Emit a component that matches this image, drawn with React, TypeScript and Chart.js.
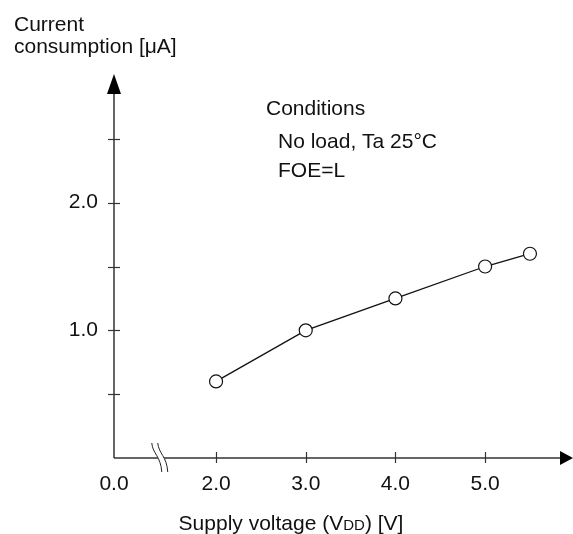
import React, { useEffect, useRef } from "react";
import { Chart, registerables } from "chart.js";

Chart.register(...registerables);

// ---- data ----
const supplyVoltage = [2.0, 3.0, 4.0, 5.0, 5.5];
const currentConsumption = [0.6, 1.0, 1.25, 1.5, 1.6];

const xTickValues = [2, 3, 4, 5];
const xOriginLabel = "0.0";
const yTickLabelValues = [1, 2];

const xAxisStart = 0.862; // broken axis: the y-axis sits here (labelled 0.0)
const xAxisEnd = 5.98;
const yAxisMin = 0;
const yAxisMax = 3.0;
const yStep = 0.5;

const yTitleLines = ["Current", "consumption [\u03bcA]"];
const conditionsLines = ["Conditions", "No load, Ta 25\u00b0C", "FOE=L"];

const FONT = "'Liberation Sans', Arial, Helvetica, sans-serif";
const INK = "#111";
const AXIS = "#333";

const decorations = {
  id: "decorations",
  beforeDatasetsDraw(chart: any) {
    const { ctx, chartArea } = chart;
    const xs = chart.scales.x;
    const ys = chart.scales.y;
    const left = chartArea.left;
    const bottom = chartArea.bottom;
    const top = chartArea.top;
    const right = chartArea.right;
    ctx.save();
    ctx.strokeStyle = AXIS;
    ctx.fillStyle = "#000";
    ctx.lineWidth = 1.5;
    // y axis line
    ctx.beginPath();
    ctx.moveTo(left, bottom);
    ctx.lineTo(left, top + 12);
    ctx.stroke();
    // y arrow
    ctx.beginPath();
    ctx.moveTo(left, top - 1);
    ctx.lineTo(left - 7, top + 19);
    ctx.lineTo(left + 7, top + 19);
    ctx.closePath();
    ctx.fill();
    // x axis line
    ctx.beginPath();
    ctx.moveTo(left, bottom);
    ctx.lineTo(right - 8, bottom);
    ctx.stroke();
    // x arrow
    ctx.beginPath();
    ctx.moveTo(right, bottom);
    ctx.lineTo(right - 13, bottom - 7);
    ctx.lineTo(right - 13, bottom + 7);
    ctx.closePath();
    ctx.fill();
    // y tick marks (crossing)
    ctx.lineWidth = 1.2;
    for (let v = yStep; v < yAxisMax - 1e-6; v += yStep) {
      const py = Math.round(ys.getPixelForValue(v)) + 0.5;
      ctx.beginPath();
      ctx.moveTo(left - 6, py);
      ctx.lineTo(left + 6, py);
      ctx.stroke();
    }
    // x tick marks (crossing)
    xTickValues.forEach((v) => {
      const px = Math.round(xs.getPixelForValue(v)) + 0.5;
      ctx.beginPath();
      ctx.moveTo(px, bottom - 6);
      ctx.lineTo(px, bottom + 5);
      ctx.stroke();
    });
    // axis break marks
    const bx = left + (xs.getPixelForValue(2) - left) * 0.37;
    const curve = (x0: number) => {
      ctx.moveTo(x0, bottom - 15);
      ctx.bezierCurveTo(x0 + 1, bottom - 4, x0 + 9, bottom - 2, x0 + 10, bottom + 14);
    };
    ctx.fillStyle = "#fff";
    ctx.beginPath();
    ctx.moveTo(bx, bottom - 15);
    ctx.bezierCurveTo(bx + 1, bottom - 4, bx + 9, bottom - 2, bx + 10, bottom + 14);
    ctx.lineTo(bx + 16, bottom + 14);
    ctx.bezierCurveTo(bx + 15, bottom - 2, bx + 7, bottom - 4, bx + 6, bottom - 15);
    ctx.closePath();
    ctx.fill();
    ctx.strokeStyle = "#222";
    ctx.lineWidth = 1;
    ctx.beginPath();
    curve(bx);
    curve(bx + 6);
    ctx.stroke();
    ctx.restore();
  },
  afterDraw(chart: any) {
    const { ctx } = chart;
    ctx.save();
    ctx.fillStyle = INK;
    ctx.textBaseline = "alphabetic";
    ctx.textAlign = "left";
    ctx.font = `21px ${FONT}`;
    // y-axis title
    ctx.fillText(yTitleLines[0], 14, 31);
    ctx.fillText(yTitleLines[1], 14, 53);
    // conditions
    ctx.fillText(conditionsLines[0], 266, 115);
    ctx.fillText(conditionsLines[1], 278, 148);
    ctx.fillText(conditionsLines[2], 278, 177);
    // x-axis title with small caps DD
    const big = `21px ${FONT}`;
    const small = `15px ${FONT}`;
    const parts: [string, string][] = [
      ["Supply voltage (V", big],
      ["DD", small],
      [") [V]", big],
    ];
    let total = 0;
    parts.forEach(([t, f]) => {
      ctx.font = f;
      total += ctx.measureText(t).width;
    });
    let x = 291 - total / 2;
    parts.forEach(([t, f]) => {
      ctx.font = f;
      ctx.fillText(t, x, 530);
      x += ctx.measureText(t).width;
    });
    ctx.restore();
  },
};

export default function App() {
  const ref = useRef<HTMLCanvasElement | null>(null);
  useEffect(() => {
    if (!ref.current) return;
    const chart = new Chart(ref.current, {
      type: "line",
      data: {
        datasets: [
          {
            data: supplyVoltage.map((x, i) => ({ x, y: currentConsumption[i] })),
            borderColor: INK,
            borderWidth: 1.3,
            pointRadius: 6.5,
            pointHoverRadius: 6.5,
            pointBackgroundColor: "#fff",
            pointBorderColor: INK,
            pointBorderWidth: 1.2,
            tension: 0,
            fill: false,
            clip: false,
          },
        ],
      },
      options: {
        animation: false,
        responsive: false,
        devicePixelRatio: 1,
        layout: { autoPadding: false, padding: { top: 75, left: 0, right: 0, bottom: 0 } },
        plugins: { legend: { display: false }, tooltip: { enabled: false } },
        scales: {
          x: {
            type: "linear",
            min: xAxisStart,
            max: xAxisEnd,
            afterBuildTicks: (s: any) => {
              s.ticks = [xAxisStart, ...xTickValues].map((value) => ({ value }));
            },
            afterFit: (s: any) => {
              s.height = 76;
              s.paddingLeft = 0;
              s.paddingRight = 0;
            },
            grid: { display: false, drawTicks: false },
            border: { display: false },
            ticks: {
              padding: 14,
              color: INK,
              font: { family: FONT, size: 21 },
              maxRotation: 0,
              autoSkip: false,
              callback: (v: any) =>
                Math.abs(Number(v) - xAxisStart) < 1e-6 ? xOriginLabel : Number(v).toFixed(1),
            },
          },
          y: {
            type: "linear",
            min: yAxisMin,
            max: yAxisMax,
            afterFit: (s: any) => {
              s.width = 114;
              s.paddingTop = 0;
              s.paddingBottom = 0;
            },
            grid: { display: false, drawTicks: false },
            border: { display: false },
            ticks: {
              stepSize: yStep,
              padding: 16,
              color: INK,
              font: { family: FONT, size: 21 },
              callback: (v: any) =>
                yTickLabelValues.includes(Number(v)) ? Number(v).toFixed(1) : "",
            },
          },
        },
      },
      plugins: [decorations],
    });
    return () => chart.destroy();
  }, []);
  return (
    <div style={{ position: "absolute", left: 0, top: 0, width: 573, height: 534 }}>
      <canvas ref={ref} width={573} height={534} style={{ display: "block" }} />
    </div>
  );
}
